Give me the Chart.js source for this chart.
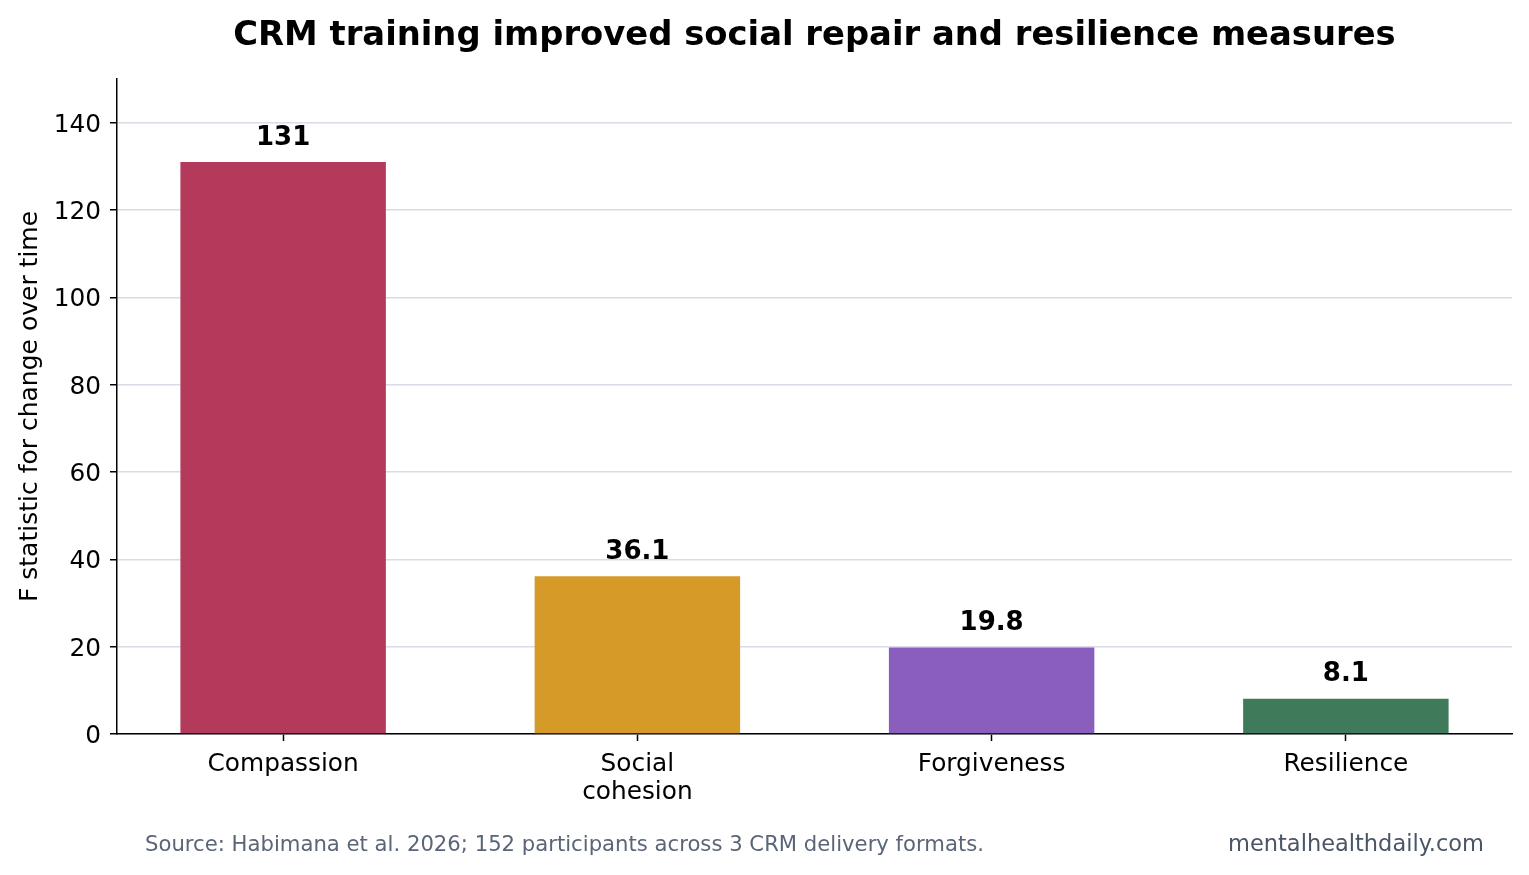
<!DOCTYPE html>
<html>
<head>
<meta charset="utf-8">
<title>CRM training</title>
<script src="https://cdn.jsdelivr.net/npm/chart.js@4/dist/chart.umd.min.js"></script>
<style>
  html, body { margin: 0; padding: 0; background: #fff; }
  canvas { display: block; }
</style>
</head>
<body>
<canvas id="chart" width="1529" height="875"></canvas>
<script>
// ---- Données ----
const categories = [['Compassion'], ['Social', 'cohesion'], ['Forgiveness'], ['Resilience']]
const fValues = [131, 36.1, 19.8, 8.1]
const barColors = ['#b33a5a', '#d69a29', '#8a5ebd', '#3f7b5a']
const yTicks = [0, 20, 40, 60, 80, 100, 120, 140]

const titre = 'CRM training improved social repair and resilience measures'
const source = 'Source: Habimana et al. 2026; 152 participants across 3 CRM delivery formats.'
const marque = 'mentalhealthdaily.com'

const FONT = "'DejaVu Sans', Verdana, sans-serif"

// ---- Étiquettes de valeurs + pied de page ----
const annotations = {
  id: 'annotations',
  afterDraw(chart) {
    const ctx = chart.ctx
    ctx.save()
    ctx.fillStyle = '#000'
    ctx.font = `bold 26px ${FONT}`
    ctx.textAlign = 'center'
    ctx.textBaseline = 'middle'
    chart.getDatasetMeta(0).data.forEach((bar, i) => {
      ctx.fillText(String(fValues[i]), bar.x, bar.y - 24)
    })

    ctx.font = `21.2px ${FONT}`
    ctx.fillStyle = '#5a6577'
    ctx.textAlign = 'left'
    ctx.fillText(source, 145, 845, 839)

    ctx.font = `22.5px ${FONT}`
    ctx.fillStyle = '#4a5566'
    ctx.textAlign = 'right'
    ctx.fillText(marque, 1484, 845)
    ctx.restore()
  }
}

new Chart(document.getElementById('chart'), {
  type: 'bar',
  data: {
    datasets: [{
      data: fValues.map((v, i) => ({ x: i, y: v })),
      backgroundColor: barColors,
      borderWidth: 0,
      barPercentage: 0.58,
      categoryPercentage: 1
    }]
  },
  options: {
    responsive: false,
    animation: false,
    layout: { padding: { left: 0, right: 17, top: 0, bottom: 0 } },
    plugins: {
      legend: { display: false },
      tooltip: { enabled: false },
      title: {
        display: true,
        text: titre,
        fullSize: false,
        color: '#000',
        font: { family: FONT, size: 33.8, weight: 'bold', lineHeight: 1.2 },
        padding: { top: 16, bottom: 22.4 }
      }
    },
    scales: {
      x: {
        type: 'linear',
        offset: false,
        min: -0.469,
        max: 3.469,
        afterBuildTicks: s => { s.ticks = categories.map((c, i) => ({ value: i })) },
        afterFit: s => { s.height = 141 },
        border: { display: true, color: '#000', width: 1.5 },
        grid: { offset: false, drawOnChartArea: false, drawTicks: true, tickLength: 7, tickColor: '#000', tickWidth: 1.5 },
        ticks: {
          color: '#000',
          padding: 10,
          maxRotation: 0,
          autoSkip: false,
          font: { family: FONT, size: 24.8, lineHeight: 1.13 },
          callback: v => categories[v]
        }
      },
      y: {
        min: 0,
        max: 150,
        z: 1,
        afterBuildTicks: s => { s.ticks = yTicks.map(v => ({ value: v })) },
        afterFit: s => { s.width = 117 },
        border: { display: true, color: '#000', width: 1.5 },
        grid: { color: '#d8dce8', lineWidth: 1.5, drawTicks: true, tickLength: 7, tickColor: '#000', tickWidth: 1.5 },
        ticks: {
          color: '#000',
          padding: 9,
          labelOffset: 2.5,
          font: { family: FONT, size: 24.8 }
        },
        title: {
          display: true,
          text: 'F statistic for change over time',
          color: '#000',
          font: { family: FONT, size: 25, lineHeight: 1.2 },
          padding: { top: 15, bottom: 4 }
        }
      }
    }
  },
  plugins: [annotations]
})
</script>
</body>
</html>
